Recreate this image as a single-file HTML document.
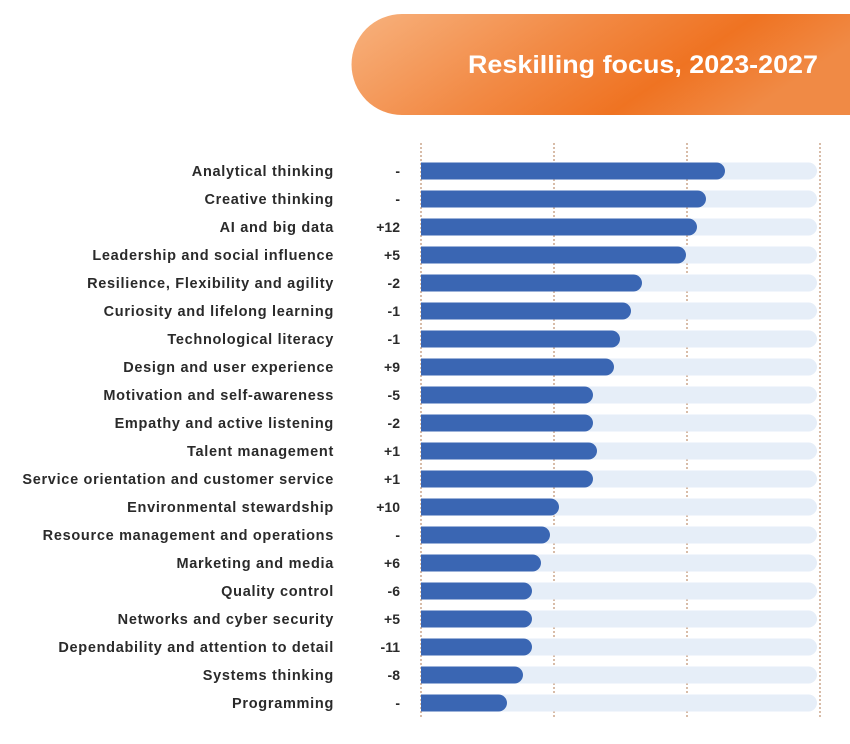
<!DOCTYPE html>
<html><head><meta charset="utf-8"><style>
html,body{margin:0;padding:0;background:#fff;width:850px;height:744px;overflow:hidden}
</style></head><body>
<svg width="850" height="744" xmlns="http://www.w3.org/2000/svg" font-family="Liberation Sans, sans-serif">
<defs>
<linearGradient id="g" x1="0" y1="0" x2="1" y2="0.3">
<stop offset="0" stop-color="#f7b27e"/>
<stop offset="0.45" stop-color="#f28a45"/>
<stop offset="0.75" stop-color="#ef7322"/>
<stop offset="1" stop-color="#f08a45"/>
</linearGradient>
</defs>
<path d="M402,14 H850 V115 H402 A50.5,50.5 0 0 1 402,14 Z" fill="url(#g)"/>
<text x="468" y="73" fill="#fff" font-size="25" font-weight="bold" textLength="350" lengthAdjust="spacingAndGlyphs">Reskilling focus, 2023-2027</text>
<g stroke="#b07a50" stroke-width="1" stroke-dasharray="2,2">
<line x1="421" y1="143" x2="421" y2="718"/>
<line x1="554" y1="143" x2="554" y2="718"/>
<line x1="687" y1="143" x2="687" y2="718"/>
<line x1="820" y1="143" x2="820" y2="718"/>
</g>
<g id="rows"></g>
</svg>
<script>
var d=[["Analytical thinking","-",725],["Creative thinking","-",706],["AI and big data","+12",697],["Leadership and social influence","+5",686],["Resilience, Flexibility and agility","-2",642],["Curiosity and lifelong learning","-1",631],["Technological literacy","-1",620],["Design and user experience","+9",614],["Motivation and self-awareness","-5",593],["Empathy and active listening","-2",593],["Talent management","+1",597],["Service orientation and customer service","+1",593],["Environmental stewardship","+10",559],["Resource management and operations","-",550],["Marketing and media","+6",541],["Quality control","-6",532],["Networks and cyber security","+5",532],["Dependability and attention to detail","-11",532],["Systems thinking","-8",523],["Programming","-",507]];
var g=document.getElementById("rows"),s="";
d.forEach(function(r,i){var c=171+i*28;
s+='<rect x="421" y="'+(c-8.5)+'" width="396" height="17" rx="8.5" fill="#e6eef8"/>';
s+='<path d="M421,'+(c-8.5)+' H'+(r[2]-8.5)+' A8.5,8.5 0 0 1 '+(r[2]-8.5)+','+(c+8.5)+' H421 Z" fill="#3a66b3"/>';
s+='<text x="334" y="'+(c+5)+'" text-anchor="end" font-size="14.5" font-weight="bold" letter-spacing="0.7" fill="#2a2a2a">'+r[0].replace(/&/g,"&amp;")+'</text>';
s+='<text x="400" y="'+(c+5)+'" text-anchor="end" font-size="14" font-weight="bold" fill="#2a2a2a">'+r[1]+'</text>';});
g.innerHTML=s;
</script>
</body></html>
